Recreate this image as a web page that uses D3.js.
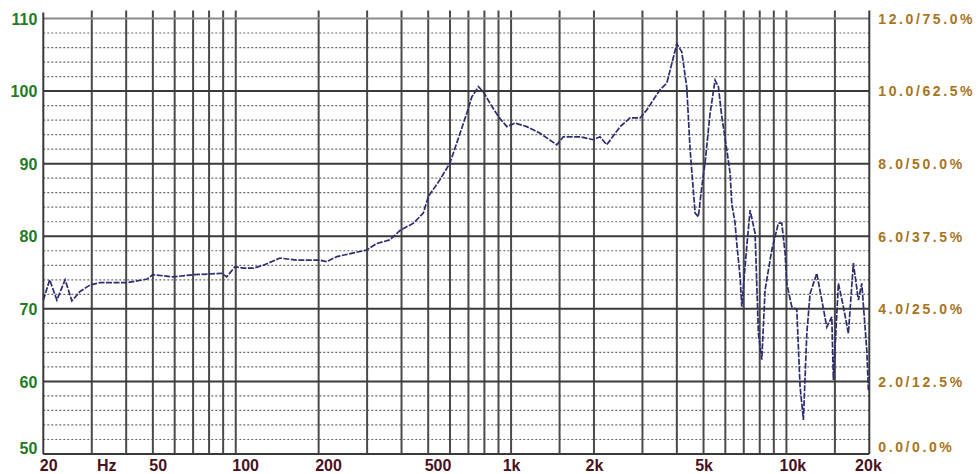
<!DOCTYPE html>
<html>
<head>
<meta charset="utf-8">
<script src="https://cdn.jsdelivr.net/npm/d3@7.9.0/dist/d3.min.js"></script>
<style>
  body { margin: 0; background: #fff; }
  svg { display: block; }
</style>
</head>
<body>
<svg width="979" height="474"></svg>
<script>
// frequency response
const freqs = [20, 21.1, 22.4, 24, 25.4, 27.2, 29.6, 32.1, 40.3, 47.6, 50, 59.2, 70, 80, 88.9, 92.7, 99.4,
  106.6, 115.8, 125.9, 144.8, 166.5, 202, 214, 233, 299, 325, 363, 395, 442, 480, 501, 552, 600, 690,
  720, 761, 793, 839, 899, 965, 1034, 1140, 1274, 1465, 1548, 1780, 1990, 2104, 2226, 2488, 2704,
  2940, 3110, 3288, 3478, 3678, 3998, 4168, 4346, 4468, 4660, 4788, 4928, 5064, 5280, 5508, 5662,
  5824, 6074, 6244, 6332, 6510, 6602, 6788, 6886, 7178, 7380, 7696, 7912, 8138, 8366, 8848, 9350,
  9620, 9890, 10030, 10458, 10906, 11210, 11526, 11860, 12190, 12892, 13444, 14018, 14616, 14812,
  15444, 16104, 16790, 17508, 18258, 18778, 19586, 19848];
const spl = [71.2, 74, 71.2, 74, 71.1, 72.4, 73.3, 73.6, 73.6, 74.1, 74.7, 74.4, 74.7, 74.8, 74.9, 74.4, 75.8,
  75.6, 75.6, 76.0, 77.0, 76.7, 76.7, 76.5, 77.2, 78.1, 79.0, 79.5, 80.8, 81.8, 83.2, 85.5, 87.8, 90.1, 96.9,
  99.2, 100.6, 99.9, 98.3, 96.5, 95.1, 95.6, 95.1, 94.2, 92.6, 93.7, 93.7, 93.3, 93.7, 92.6, 95.1, 96.3,
  96.3, 97.4, 98.8, 100.2, 101.1, 106.5, 105.4, 100.5, 92, 83.2, 82.7, 86.8, 90.1, 96.9, 101.5, 100.6,
  96.5, 91.9, 88.7, 84.5, 81.8, 79.0, 74.4, 70.3, 78.6, 83.6, 80.4, 66.6, 63.0, 72.6, 78.1, 81.8,
  81.8, 77.7, 73.5, 70.3, 69.9, 59.3, 54.7, 66.6, 72.1, 74.9, 71.2, 67.5, 68.9, 60.2,
  73.5, 70.3, 66.6, 76.3, 71.2, 73.5, 64.3, 58.8];

const gridFreqs = [30, 40, 50, 60, 70, 80, 90, 100, 200, 300, 400, 500, 600, 700, 800, 900,
  1000, 1500, 2000, 3000, 4000, 5000, 6000, 7000, 8000, 9000, 10000, 15000];
const freqTicks = [20, 50, 100, 200, 500, 1000, 2000, 5000, 10000, 20000];
const freqLabels = ['20', '50', '100', '200', '500', '1k', '2k', '5k', '10k', '20k'];
const dbTicks = [50, 60, 70, 80, 90, 100, 110];
const rightLabels = ['0.0/0.0%', '2.0/12.5%', '4.0/25.0%', '6.0/37.5%', '8.0/50.0%', '10.0/62.5%', '12.0/75.0%'];

const plotLeft = 43.3, plotRight = 869.3, plotTop = 18.5, plotBottom = 454;

const x = d3.scaleLog().domain([20, 20000]).range([plotLeft, plotRight]);
const y = d3.scaleLinear().domain([50, 110]).range([plotBottom, plotTop]);

const svg = d3.select('svg');

// minor dotted lines every 2 dB
const minor = d3.range(52, 110, 2).filter(d => d % 10 !== 0);
svg.append('g')
  .selectAll('line')
  .data(minor)
  .join('line')
  .attr('x1', plotLeft).attr('x2', plotRight)
  .attr('y1', d => y(d)).attr('y2', d => y(d))
  .attr('stroke', '#6a6a6a')
  .attr('stroke-width', 1.2)
  .attr('stroke-dasharray', '2,2');

// vertical grid
svg.append('g')
  .selectAll('line')
  .data(gridFreqs)
  .join('line')
  .attr('x1', d => x(d)).attr('x2', d => x(d))
  .attr('y1', plotTop - 8).attr('y2', plotBottom)
  .attr('stroke', '#4a4a4a')
  .attr('stroke-width', 2);

// major horizontal lines
svg.append('g')
  .selectAll('line')
  .data(dbTicks)
  .join('line')
  .attr('x1', plotLeft).attr('x2', plotRight)
  .attr('y1', d => y(d)).attr('y2', d => y(d))
  .attr('stroke', d => d === 110 ? '#8a8a8a' : '#3a3a3a')
  .attr('stroke-width', 2);

// frame sides
svg.append('line').attr('x1', plotLeft).attr('x2', plotLeft).attr('y1', plotTop - 6).attr('y2', plotBottom)
  .attr('stroke', '#3a3a3a').attr('stroke-width', 2);
svg.append('line').attr('x1', plotRight).attr('x2', plotRight).attr('y1', plotTop - 8).attr('y2', plotBottom)
  .attr('stroke', '#3a3a3a').attr('stroke-width', 2);

// response curve
const line = d3.line()
  .x((d, i) => x(freqs[i]))
  .y(d => y(d));

svg.append('path')
  .datum(spl)
  .attr('d', line)
  .attr('fill', 'none')
  .attr('stroke', '#2e2c70')
  .attr('stroke-width', 1.7)
  .attr('stroke-dasharray', '6,1.5');

// axes (labels only)
const leftAxis = svg.append('g')
  .attr('transform', `translate(${plotLeft},0)`)
  .call(d3.axisLeft(y).tickValues(dbTicks).tickSize(0).tickPadding(6).tickFormat(d3.format('d')));
leftAxis.select('.domain').remove();
leftAxis.selectAll('text')
  .attr('font-family', 'Liberation Sans, Arial, sans-serif')
  .attr('font-weight', 'bold')
  .attr('font-size', 16)
  .attr('fill', '#227a22')
  .attr('dy', (d) => d === 50 ? '-0.05em' : '0.35em');

const rightAxis = svg.append('g')
  .attr('transform', `translate(${plotRight},0)`)
  .call(d3.axisRight(y).tickValues(dbTicks).tickSize(0).tickPadding(9)
    .tickFormat((d, i) => rightLabels[i]));
rightAxis.select('.domain').remove();
rightAxis.selectAll('text')
  .attr('font-family', 'Liberation Sans, Arial, sans-serif')
  .attr('font-weight', 'bold')
  .attr('font-size', 14)
  .attr('letter-spacing', 2.6)
  .attr('fill', '#a8741c')
  .attr('dy', (d) => d === 50 ? '-0.15em' : '0.35em');

const bottomAxis = svg.append('g')
  .attr('transform', `translate(0,${plotBottom})`)
  .call(d3.axisBottom(x).tickValues(freqTicks).tickSize(0).tickPadding(6)
    .tickFormat((d, i) => freqLabels[i]));
bottomAxis.select('.domain').remove();
bottomAxis.selectAll('text')
  .attr('font-family', 'Liberation Sans, Arial, sans-serif')
  .attr('font-weight', 'bold')
  .attr('font-size', 16)
  .attr('fill', '#4a1020')
  .attr('text-anchor', d => d < 1000 ? 'start' : (d === 20000 ? 'end' : 'middle'))
  .attr('dx', d => d < 1000 ? -4 : (d === 20000 ? 12 : (d === 10000 ? 6 : 0)));

svg.append('text')
  .attr('x', x(34))
  .attr('y', plotBottom + 17)
  .attr('text-anchor', 'middle')
  .attr('font-family', 'Liberation Sans, Arial, sans-serif')
  .attr('font-weight', 'bold')
  .attr('font-size', 16)
  .attr('fill', '#4a1020')
  .text('Hz');
</script>
</body>
</html>
